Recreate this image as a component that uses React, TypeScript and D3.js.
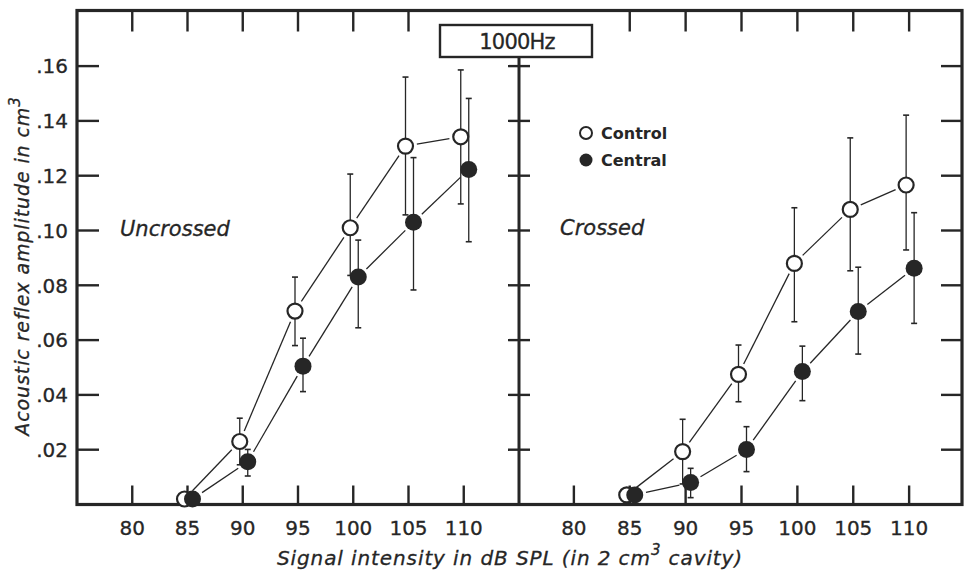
import { useEffect, useRef } from 'react';
import * as d3 from 'd3';

// sound levels in dB SPL
const levels = [85, 90, 95, 100, 105, 110];
const xTicks = [80, 85, 90, 95, 100, 105, 110];
const yTicks = [0.02, 0.04, 0.06, 0.08, 0.1, 0.12, 0.14, 0.16];
const yTickLabels = ['.02', '.04', '.06', '.08', '.10', '.12', '.14', '.16'];
const topTicksLeft = [80, 85, 90, 95, 100, 105];
const topTicksRight = [85, 90, 95, 100, 105, 110];

// Uncrossed
const uncControl = [0.002, 0.023, 0.0706, 0.101, 0.1308, 0.1342];
const uncControlHi = [null, 0.0315, 0.083, 0.1206, 0.156, 0.1586];
const uncControlLo = [null, 0.0145, 0.058, 0.0836, 0.1057, 0.1097];
const uncCentral = [0.002, 0.0156, 0.0505, 0.083, 0.103, 0.1223];
const uncCentralHi = [null, 0.0201, 0.0607, 0.0965, 0.1266, 0.1482];
const uncCentralLo = [null, 0.0104, 0.0412, 0.0645, 0.0783, 0.0959];

// Crossed
const crControl = [0.0035, 0.0193, 0.0475, 0.088, 0.1077, 0.1166];
const crControlHi = [null, 0.0311, 0.0582, 0.1083, 0.1338, 0.1421];
const crControlLo = [null, 0.0075, 0.0375, 0.0667, 0.0853, 0.0929];
const crCentral = [0.0035, 0.008, 0.0201, 0.0485, 0.0704, 0.0862];
const crCentralHi = [null, 0.0132, 0.0284, 0.0578, 0.0866, 0.1065];
const crCentralLo = [null, 0.0025, 0.012, 0.0379, 0.0549, 0.0661];

const INK = '#262626';
const FONT = '"DejaVu Sans", sans-serif';

export default function App() {
    const svgRef = useRef<SVGSVGElement | null>(null);

    useEffect(() => {
        if (!svgRef.current) return;
        const svg = d3.select(svgRef.current);
        svg.selectAll('*').remove();

        const left = 77, mid = 519, right = 962, top = 10.5, bottom = 504.5;

        const y = d3.scaleLinear().domain([0, 0.16]).range([bottom, bottom - 0.16 * 2740]);
        const xL = d3.scaleLinear().domain([75, 115]).range([left, mid]);
        const xR = d3.scaleLinear().domain([75, 115]).range([518, 965]);

        svg.append('rect').attr('width', 967).attr('height', 573).attr('fill', '#fff');

        const g = svg.append('g');

        // ticks
        const tk = g.append('g').attr('stroke', INK).attr('stroke-width', 2.4);
        yTicks.forEach((v) => {
            tk.append('line').attr('x1', left).attr('x2', left + 22).attr('y1', y(v)).attr('y2', y(v));
            tk.append('line').attr('x1', mid - 11).attr('x2', mid + 11).attr('y1', y(v)).attr('y2', y(v));
            tk.append('line').attr('x1', right - 21).attr('x2', right).attr('y1', y(v)).attr('y2', y(v));
        });
        xTicks.forEach((v) => {
            tk.append('line').attr('x1', xL(v)).attr('x2', xL(v)).attr('y1', bottom).attr('y2', bottom - 19);
            tk.append('line').attr('x1', xR(v)).attr('x2', xR(v)).attr('y1', bottom).attr('y2', bottom - 19);
        });
        topTicksLeft.forEach((v) => {
            tk.append('line').attr('x1', xL(v)).attr('x2', xL(v)).attr('y1', top).attr('y2', top + 21);
        });
        topTicksRight.forEach((v) => {
            tk.append('line').attr('x1', xR(v)).attr('x2', xR(v)).attr('y1', top).attr('y2', top + 21);
        });

        // frame
        g.append('rect')
            .attr('x', left).attr('y', top)
            .attr('width', right - left).attr('height', bottom - top)
            .attr('fill', 'none').attr('stroke', INK).attr('stroke-width', 3.2);
        g.append('line')
            .attr('x1', mid).attr('x2', mid).attr('y1', 57).attr('y2', bottom)
            .attr('stroke', INK).attr('stroke-width', 3);

        // title box
        g.append('rect')
            .attr('x', 440).attr('y', 25).attr('width', 152).attr('height', 32)
            .attr('fill', '#fff').attr('stroke', INK).attr('stroke-width', 2.4);
        g.append('text')
            .attr('x', 517).attr('y', 49)
            .attr('text-anchor', 'middle')
            .attr('font-family', FONT).attr('font-size', 21)
            .attr('letter-spacing', -0.8)
            .attr('fill', INK).attr('stroke', INK).attr('stroke-width', 0.3)
            .text('1000Hz');

        // tick labels
        const lab = g.append('g').attr('font-family', FONT).attr('font-size', 20)
            .attr('fill', INK).attr('stroke', INK).attr('stroke-width', 0.3);
        yTicks.forEach((v, i) => {
            lab.append('text').attr('x', 68).attr('y', y(v)).attr('dy', '0.36em')
                .attr('text-anchor', 'end').text(yTickLabels[i]);
        });
        xTicks.forEach((v) => {
            lab.append('text').attr('x', xL(v)).attr('y', 535).attr('text-anchor', 'middle').text(String(v));
            lab.append('text').attr('x', xR(v)).attr('y', 535).attr('text-anchor', 'middle').text(String(v));
        });

        // axis titles
        const yt = g.append('text')
            .attr('transform', 'translate(29,266) rotate(-90)')
            .attr('text-anchor', 'middle')
            .attr('font-family', FONT).attr('font-style', 'italic').attr('font-size', 19)
            .attr('letter-spacing', 0.9)
            .attr('fill', INK).attr('stroke', INK).attr('stroke-width', 0.3);
        yt.append('tspan').text('Acoustic reflex amplitude in cm');
        yt.append('tspan').attr('dy', -9).attr('font-size', 15).text('3');

        const xt = g.append('text')
            .attr('x', 510).attr('y', 565)
            .attr('text-anchor', 'middle')
            .attr('font-family', FONT).attr('font-style', 'italic').attr('font-size', 20)
            .attr('letter-spacing', 0.9)
            .attr('fill', INK).attr('stroke', INK).attr('stroke-width', 0.3);
        xt.append('tspan').text('Signal intensity in dB SPL (in 2 cm');
        xt.append('tspan').attr('dy', -10).attr('font-size', 15).text('3');
        xt.append('tspan').attr('dy', 10).text(' cavity)');

        // panel labels
        g.append('text').attr('x', 120).attr('y', 236)
            .attr('font-family', FONT).attr('font-style', 'italic').attr('font-size', 21)
            .attr('fill', INK).attr('stroke', INK).attr('stroke-width', 0.3).text('Uncrossed');
        g.append('text').attr('x', 560).attr('y', 235)
            .attr('font-family', FONT).attr('font-style', 'italic').attr('font-size', 21)
            .attr('fill', INK).attr('stroke', INK).attr('stroke-width', 0.3).text('Crossed');

        // legend
        g.append('circle').attr('cx', 586).attr('cy', 133).attr('r', 6)
            .attr('fill', '#fff').attr('stroke', INK).attr('stroke-width', 2);
        g.append('circle').attr('cx', 586).attr('cy', 160).attr('r', 6.5).attr('fill', INK);
        g.append('text').attr('x', 601).attr('y', 139)
            .attr('font-family', FONT).attr('font-weight', 'bold').attr('font-size', 16)
            .attr('fill', INK).text('Control');
        g.append('text').attr('x', 601).attr('y', 166)
            .attr('font-family', FONT).attr('font-weight', 'bold').attr('font-size', 16)
            .attr('fill', INK).text('Central');

        const R = 8.5;
        const drawSeries = (
            x: d3.ScaleLinear<number, number>,
            mean: number[], hi: (number | null)[], lo: (number | null)[],
            shift: number, filled: boolean,
        ) => {
            const pts = levels.map((lv, i) => [x(lv) + shift, y(mean[i])]);
            const sg = g.append('g');
            // connecting segments, stopped short of the markers
            d3.pairs(pts).forEach(([a, b]) => {
                const dx = b[0] - a[0], dy = b[1] - a[1];
                const len = Math.hypot(dx, dy);
                const gap = R + 3;
                if (len <= 2 * gap) return;
                const ux = dx / len, uy = dy / len;
                sg.append('line')
                    .attr('x1', a[0] + ux * gap).attr('y1', a[1] + uy * gap)
                    .attr('x2', b[0] - ux * gap).attr('y2', b[1] - uy * gap)
                    .attr('stroke', INK).attr('stroke-width', 1.3);
            });
            // error bars
            levels.forEach((lv, i) => {
                const h = hi[i], l = lo[i];
                if (h == null || l == null) return;
                const cx = x(lv) + shift;
                sg.append('line').attr('x1', cx).attr('x2', cx).attr('y1', y(h)).attr('y2', y(l))
                    .attr('stroke', INK).attr('stroke-width', 1.3);
                [h, l].forEach((v) => {
                    sg.append('line').attr('x1', cx - 3).attr('x2', cx + 3).attr('y1', y(v)).attr('y2', y(v))
                        .attr('stroke', INK).attr('stroke-width', 1.6);
                });
            });
            pts.forEach(([px, py]) => {
                sg.append('circle').attr('cx', px).attr('cy', py)
                    .attr('r', filled ? R : R - 1)
                    .attr('fill', filled ? INK : '#fff')
                    .attr('stroke', INK).attr('stroke-width', filled ? 0 : 2.2);
            });
        };

        drawSeries(xL, uncControl, uncControlHi, uncControlLo, -3, false);
        drawSeries(xL, uncCentral, uncCentralHi, uncCentralLo, 5, true);
        drawSeries(xR, crControl, crControlHi, crControlLo, -3, false);
        drawSeries(xR, crCentral, crCentralHi, crCentralLo, 5, true);
    }, []);

    return (
        <svg
            ref={svgRef}
            width={967}
            height={573}
            style={{ position: 'absolute', left: 0, top: 0 }}
        ></svg>
    );
}
